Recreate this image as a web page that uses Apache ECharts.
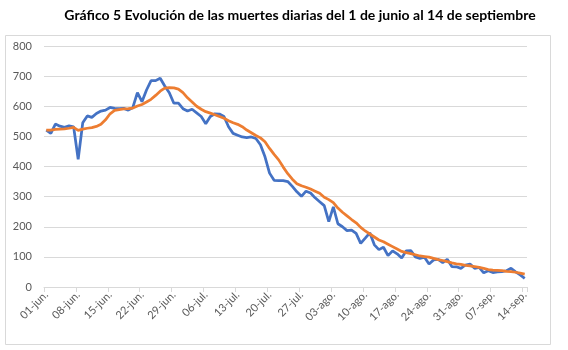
<!DOCTYPE html>
<html><head><meta charset="utf-8">
<script src="https://cdn.jsdelivr.net/npm/echarts@6/dist/echarts.min.js"></script>
<style>html,body{margin:0;padding:0;background:#fff}#c{width:568px;height:350px}</style>
</head><body><div id="c"></div>
<script>
const titleText = 'Gráfico 5 Evolución de las muertes diarias del 1 de junio al 14 de septiembre';
const monthNames = ['jun.', 'jul.', 'ago.', 'sep.'];
const monthDays = [30, 31, 31, 14];
const categories = [];
monthNames.forEach((m, i) => { for (let d = 1; d <= monthDays[i]; d++) categories.push(String(d).padStart(2, '0') + '-' + m); });

const dailyDeaths = [
  521,510,541,534,530,535,532,424,545,568,563,576,584,587,596,593,592,593,587,596,645,615,654,685,685,693,667,645,610,610,
  592,584,590,578,566,542,566,575,574,566,532,510,504,498,496,498,493,472,432,378,354,353,353,350,334,316,301,318,312,296,283,270,217,266,210,200,187,189,178,145,162,180,140,124,
  132,104,120,110,96,120,121,100,95,99,76,90,92,81,92,68,67,62,73,76,62,65,47,54,48,50,51,54,62,50,40,29
];
const movingAverage = [
  521,521,523,524,525,527,530,520,524,527,529,533,540,555,575,586,589,591,592,594,601,606,614,623,636,650,660,662,661,657,
  645,628,614,600,590,582,577,572,566,560,552,545,540,532,521,512,503,495,482,460,440,422,398,376,358,343,336,331,325,318,311,298,290,280,262,248,236,224,213,198,186,176,166,156,
  150,142,134,126,118,114,111,107,103,101,99,95,91,88,84,80,77,75,72,70,68,65,62,58,56,55,54,52,51,49,46,43
];
const yMin = 0, yMax = 800, yStep = 100;

const FONT = 'Lato, "Liberation Sans", sans-serif';
const chart = echarts.init(document.getElementById('c'), null, {renderer: 'canvas'});
chart.setOption({
  animation: false,
  backgroundColor: '#fff',
  textStyle: {fontFamily: FONT},
  graphic: [
    {type: 'rect', z: -10, shape: {x: 5.5, y: 35.5, width: 545, height: 309}, style: {fill: 'none', stroke: '#d9d9d9', lineWidth: 1}},
    {type: 'text', x: 300, y: 15, style: {text: titleText, textAlign: 'center', textVerticalAlign: 'middle', font: 'bold 14px ' + FONT, fill: '#000'}}
  ],
  grid: {left: 44, right: 41, top: 46, bottom: 63, containLabel: false},
  xAxis: {
    type: 'category', data: categories, boundaryGap: true,
    axisLine: {lineStyle: {color: '#d9d9d9', width: 1}},
    axisTick: {show: true, interval: 6, length: 5, lineStyle: {color: '#d9d9d9'}},
    axisLabel: {interval: 6, rotate: 45, fontSize: 11, color: '#595959', margin: 6, fontFamily: FONT},
    splitLine: {show: false}
  },
  yAxis: {
    type: 'value', min: yMin, max: yMax, interval: yStep,
    axisLine: {show: false}, axisTick: {show: false},
    axisLabel: {fontSize: 11, color: '#595959', margin: 12, fontFamily: FONT},
    splitLine: {lineStyle: {color: '#d9d9d9', width: 1}}
  },
  series: [
    {name: 'Muertes diarias', type: 'line', data: dailyDeaths, showSymbol: false, symbol: 'none', lineStyle: {color: '#4472C4', width: 2.75}, itemStyle: {color: '#4472C4'}, z: 2},
    {name: 'Media móvil 7 días', type: 'line', data: movingAverage, showSymbol: false, symbol: 'none', smooth: false, lineStyle: {color: '#ED7D31', width: 2.75}, itemStyle: {color: '#ED7D31'}, z: 3}
  ]
});
</script></body></html>
